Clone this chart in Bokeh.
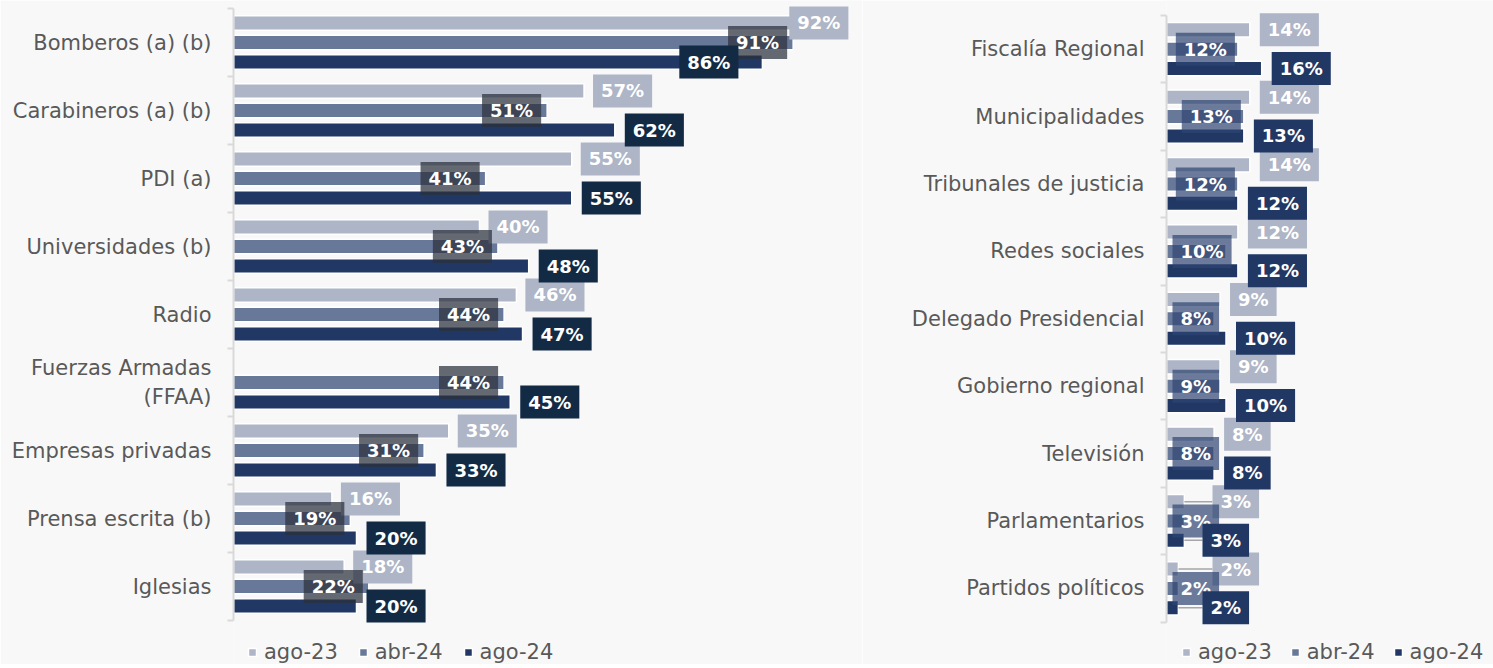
import numpy as np
from bokeh.plotting import figure
from bokeh.models import ColumnDataSource, Range1d, FixedTicker, Legend, LegendItem
from bokeh.layouts import row
from bokeh.core.properties import value
from bokeh.embed import file_html
from bokeh.resources import INLINE

# ---------------- data ----------------
series = ["ago-23", "abr-24", "ago-24"]

left_categories = ["Bomberos (a) (b)", "Carabineros (a) (b)", "PDI (a)", "Universidades (b)", "Radio",
                   "Fuerzas Armadas\n(FFAA)", "Empresas privadas", "Prensa escrita (b)", "Iglesias"]
left_ago23 = [92, 57, 55, 40, 46, np.nan, 35, 16, 18]
left_abr24 = [91, 51, 41, 43, 44, 44, 31, 19, 22]
left_ago24 = [86, 62, 55, 48, 47, 45, 33, 20, 20]

right_categories = ["Fiscalía Regional", "Municipalidades", "Tribunales de justicia", "Redes sociales",
                    "Delegado Presidencial", "Gobierno regional", "Televisión", "Parlamentarios",
                    "Partidos políticos"]
right_ago23 = [14, 14, 14, 12, 9, 9, 8, 3, 2]
right_abr24 = [12, 13, 12, 10, 8, 9, 8, 3, 2]
right_ago24 = [16, 13, 12, 12, 10, 10, 8, 3, 2]

# ---------------- style ----------------
BG = "#f8f8f8"
FONT = "DejaVu Sans"
bar_colors = ["#adb5c6", "#687898", "#213864"]
dodge = [-0.287, 0.0, 0.287]
PAD = dict(left=8, right=8, top=6, bottom=6)
HEIGHT = 664


def left_rules(k, v, s):
    if k == 0:
        return ("left", -10) if v > 80 else ("left", 9)
    if k == 1:
        return ("right", -6)
    return ("right", -24) if v > 80 else ("left", 10)


def right_rules(k, v, s):
    px = v * s
    if k == 0:
        return ("left", max(10, 46 - px))
    if k == 1:
        return ("right", -3) if px - 3 - 56 >= 6 else ("left", 6 - px)
    return ("left", max(10, 36 - px))


def make_chart(cats, data, width, b_left, top_px, pitch, scale,
               box_colors, box_alphas, rules, leaders, legend_x, legend_spacing):
    n = len(cats)
    y_top = -0.5 - top_px / pitch
    y_end = y_top + HEIGHT / pitch
    x_end = (width - b_left) / scale
    p = figure(width=width, height=HEIGHT, x_range=Range1d(0, x_end), y_range=Range1d(y_end, y_top),
               x_axis_location=None, toolbar_location=None, output_backend="svg",
               min_border_left=b_left, min_border_right=0, min_border_top=0,
               min_border_bottom=0, background_fill_color=BG, border_fill_color=BG,
               outline_line_color=None)
    p.grid.visible = False
    s = scale
    idx = np.arange(n)

    rends = []
    for k, vals in enumerate(data):
        src = ColumnDataSource(dict(y=idx + dodge[k], v=np.array(vals, dtype=float)))
        r = p.hbar(y="y", left=0, right="v", height=0.215, source=src, fill_color=bar_colors[k],
                   line_color="white", line_width=1.5)
        rends.append(r)

    # leader lines + labels
    for k, vals in enumerate(data):
        groups = {"left": dict(x=[], y=[], t=[], xo=[]), "right": dict(x=[], y=[], t=[], xo=[])}
        lx0, lx1, ly = [], [], []
        for i, v in enumerate(vals):
            if np.isnan(v):
                continue
            side, off = rules(k, v, s)
            g = groups[side]
            g["x"].append(v)
            g["y"].append(i + dodge[k])
            g["t"].append(f"{int(v)}%")
            g["xo"].append(off)
            if leaders and side == "left" and off > 14:
                lx0.append(v)
                lx1.append(v + off / s)
                ly.append(i + dodge[k])
        if lx0:
            p.segment(x0=lx0, x1=lx1, y0=ly, y1=ly, line_color="#a6a6a6", line_width=1.5)
        for side, g in groups.items():
            if not g["x"]:
                continue
            p.text(x="x", y="y", text="t", x_offset="xo", source=ColumnDataSource(g),
                   anchor="center_" + side, text_align=side, text_baseline="middle",
                   text_font=value(FONT), text_font_style="bold", text_font_size="18px",
                   text_color="white", background_fill_color=box_colors[k],
                   background_fill_alpha=box_alphas[k], padding=PAD)

    ax = p.yaxis[0]
    ax.bounds = (-0.5, n - 0.5)
    ax.ticker = FixedTicker(ticks=list(range(n)), minor_ticks=[i - 0.5 for i in range(n + 1)])
    ax.major_label_overrides = {i: c for i, c in enumerate(cats)}
    ax.major_tick_out = 0
    ax.major_tick_in = 0
    ax.minor_tick_out = 6
    ax.minor_tick_in = 0
    ax.minor_tick_line_color = "#d9d9d9"
    ax.minor_tick_line_width = 2
    ax.axis_line_color = "#d9d9d9"
    ax.axis_line_width = 2
    ax.major_label_standoff = 16
    ax.major_label_text_font = FONT
    ax.major_label_text_font_size = "21px"
    ax.major_label_text_color = "#595959"

    legend = Legend(items=[LegendItem(label=series[k], renderers=[rends[k]]) for k in range(3)],
                    orientation="horizontal", location=(legend_x, 0),
                    label_text_font=FONT, label_text_font_size="21px", label_text_color="#595959",
                    glyph_width=10, glyph_height=10, label_standoff=7, spacing=legend_spacing,
                    padding=1, margin=0, border_line_color=None, background_fill_alpha=0)
    p.add_layout(legend, "center")
    return p


left = make_chart(left_categories, [left_ago23, left_abr24, left_ago24],
                  width=862, b_left=233, top_px=8, pitch=68.0, scale=6.15,
                  box_colors=["#adb5c6", "#2b313b", "#132a45"], box_alphas=[1.0, 0.72, 1.0],
                  rules=left_rules, leaders=False, legend_x=14, legend_spacing=20)
right = make_chart(right_categories, [right_ago23, right_abr24, right_ago24],
                   width=631, b_left=304, top_px=15, pitch=67.4, scale=5.95,
                   box_colors=["#adb5c6", "#2f4472", "#213864"], box_alphas=[1.0, 0.7, 1.0],
                   rules=right_rules, leaders=True, legend_x=15, legend_spacing=18)

layout = row(left, right)
open("out.html", "w").write(file_html(layout, INLINE))
